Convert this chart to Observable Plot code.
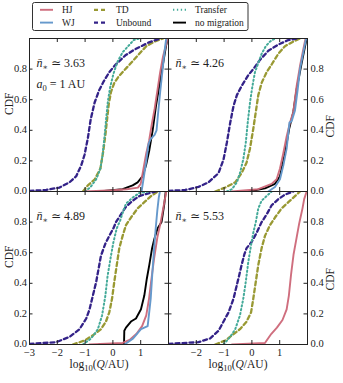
<!DOCTYPE html>
<html><head><meta charset="utf-8">
<script src="https://cdn.jsdelivr.net/npm/d3@7"></script>
<script src="https://cdn.jsdelivr.net/npm/@observablehq/plot@0.6"></script>
<style>
body{margin:0;background:#fff}
#wrap{position:relative;width:343px;height:383px;font-family:'Liberation Serif','DejaVu Serif',serif}
#wrap svg{display:block}
</style>
</head><body><div id="wrap"></div>
<script>
// ---- data ----
const seriesNames = ["HJ","WJ","TD","Unbound","Transfer","no migration"];
const seriesColors = ["#CC6677","#6699CC","#999933","#332288","#44AA99","#000000"];
const nStar = ["3.63","4.26","4.89","5.53"];
const xTicks = [-2,-1,0,1];
const yTicks = [0.2,0.4,0.6,0.8];
const yTickLabels = [0,0.2,0.4,0.6,0.8];
const xTickLabelsLeft = [-3,-2,-1,0,1];
const xTickLabelsRight = [-2,-1,0,1];

// panel n=3.63
const unb363 = [[-3,0.004],[-2.4,0.01],[-1.92,0.026],[-1.56,0.06],[-1.32,0.10],[-1.14,0.17],[-1.02,0.24],[-0.9,0.35],[-0.8,0.47],[-0.66,0.58],[-0.5,0.66],[-0.33,0.72],[-0.13,0.78],[0.1,0.83],[0.45,0.89],[0.8,0.93],[1.3,0.975],[1.7,1.0]];
const td363 = [[-1.08,0],[-0.9,0.04],[-0.65,0.08],[-0.45,0.15],[-0.35,0.26],[-0.27,0.37],[-0.21,0.47],[-0.15,0.57],[-0.07,0.65],[0.05,0.71],[0.2,0.75],[0.4,0.79],[0.6,0.83],[0.9,0.89],[1.2,0.95],[1.5,0.98],[1.8,1.0]];
const tr363 = [[-1.0,0],[-0.8,0.03],[-0.6,0.08],[-0.45,0.15],[-0.37,0.24],[-0.3,0.36],[-0.24,0.48],[-0.18,0.59],[-0.1,0.68],[0.02,0.77],[0.17,0.85],[0.35,0.91],[0.55,0.95],[0.75,0.99],[0.95,1.0]];
const nm363 = [[-0.5,0],[0.35,0.015],[0.71,0.04],[0.89,0.06],[1.07,0.1],[1.19,0.17],[1.31,0.27],[1.43,0.4],[1.55,0.56],[1.67,0.69],[1.79,0.82],[1.91,0.95],[1.97,1.0]];
const hj363 = [[-1.0,0],[0,0.008],[0.5,0.015],[0.9,0.025],[1.0,0.05],[1.1,0.15],[1.2,0.25],[1.3,0.33],[1.4,0.44],[1.5,0.54],[1.6,0.66],[1.7,0.78],[1.8,0.88],[1.9,0.95],[1.97,1.0]];
const wj363 = [[1.03,0],[1.1,0.08],[1.2,0.2],[1.28,0.31],[1.35,0.34],[1.5,0.37],[1.57,0.40],[1.62,0.5],[1.7,0.65],[1.8,0.82],[1.88,0.95],[1.92,1.0]];

// panel n=4.26
const unb426 = [[-3,0.004],[-2.4,0.01],[-1.92,0.03],[-1.56,0.06],[-1.2,0.12],[-1.02,0.21],[-0.9,0.32],[-0.78,0.45],[-0.66,0.56],[-0.54,0.63],[-0.37,0.69],[-0.13,0.76],[0.05,0.80],[0.29,0.86],[0.59,0.92],[0.95,0.96],[1.31,0.99],[1.61,1.0]];
const tr426 = [[-0.9,0],[-0.72,0.015],[-0.54,0.06],[-0.43,0.12],[-0.31,0.21],[-0.22,0.32],[-0.15,0.45],[-0.07,0.58],[0.02,0.69],[0.11,0.78],[0.23,0.84],[0.35,0.90],[0.5,0.95],[0.65,0.98],[0.83,1.0]];
const td426 = [[-1.32,0],[-0.96,0.026],[-0.6,0.06],[-0.37,0.12],[-0.19,0.19],[-0.07,0.28],[0.05,0.41],[0.14,0.52],[0.23,0.63],[0.35,0.71],[0.53,0.78],[0.71,0.83],[0.95,0.90],[1.19,0.95],[1.49,0.98],[1.73,1.0]];
const hj426 = [[-0.72,0],[0.23,0.015],[0.71,0.05],[0.89,0.08],[1.01,0.15],[1.13,0.25],[1.25,0.36],[1.37,0.45],[1.49,0.52],[1.61,0.69],[1.73,0.82],[1.85,0.93],[1.93,1.0]];
const wj426 = [[0.59,0],[0.83,0.03],[1.01,0.08],[1.13,0.17],[1.25,0.28],[1.35,0.45],[1.43,0.46],[1.55,0.53],[1.65,0.67],[1.73,0.80],[1.85,0.91],[1.95,1.0]];
const nm426 = [[-0.13,0],[0.47,0.02],[0.83,0.05],[1.01,0.1],[1.19,0.25],[1.34,0.41],[1.49,0.52],[1.61,0.67],[1.79,0.84],[1.97,1.0]];

// panel n=4.89
const unb489 = [[-3,0.004],[-2.04,0.015],[-1.56,0.05],[-1.2,0.10],[-0.96,0.17],[-0.84,0.23],[-0.72,0.32],[-0.6,0.41],[-0.52,0.49],[-0.43,0.58],[-0.27,0.66],[-0.13,0.71],[0.02,0.76],[0.11,0.80],[0.29,0.85],[0.47,0.90],[0.71,0.94],[0.95,0.97],[1.31,0.99],[1.55,1.0]];
const tr489 = [[-1.08,0],[-0.78,0.04],[-0.54,0.10],[-0.39,0.19],[-0.27,0.32],[-0.19,0.45],[-0.07,0.58],[0.02,0.67],[0.14,0.76],[0.26,0.81],[0.35,0.86],[0.47,0.92],[0.71,0.96],[0.95,0.99],[1.31,1.0]];
const td489 = [[-1.44,0],[-1.02,0.026],[-0.72,0.06],[-0.43,0.10],[-0.25,0.15],[-0.13,0.21],[-0.03,0.30],[0.05,0.41],[0.14,0.52],[0.23,0.63],[0.35,0.71],[0.47,0.78],[0.65,0.83],[0.89,0.89],[1.13,0.93],[1.37,0.97],[1.61,1.0]];
const nm489 = [[-0.5,0],[0.4,0.002],[0.41,0.09],[0.47,0.11],[0.65,0.15],[0.83,0.17],[1.01,0.23],[1.13,0.32],[1.22,0.43],[1.31,0.52],[1.41,0.63],[1.49,0.69],[1.61,0.76],[1.75,0.80],[1.85,0.92],[1.9,1.0]];
const hj489 = [[-0.85,0],[0.35,0.01],[0.6,0.03],[0.85,0.07],[1.05,0.12],[1.2,0.19],[1.3,0.3],[1.38,0.42],[1.48,0.56],[1.6,0.7],[1.72,0.8],[1.82,0.9],[1.92,1.0]];
const wj489 = [[0.42,0],[0.73,0.04],[1.01,0.10],[1.25,0.12],[1.3,0.2],[1.36,0.3],[1.42,0.47],[1.48,0.62],[1.54,0.76],[1.6,0.88],[1.65,0.96],[1.69,1.0]];

// panel n=5.53
const unb553 = [[-3,0.004],[-1.92,0.015],[-1.5,0.04],[-1.2,0.09],[-1.02,0.15],[-0.84,0.21],[-0.66,0.30],[-0.54,0.39],[-0.46,0.45],[-0.37,0.52],[-0.27,0.59],[-0.19,0.63],[-0.01,0.67],[0.17,0.73],[0.35,0.80],[0.53,0.85],[0.71,0.91],[0.95,0.95],[1.19,0.98],[1.49,1.0]];
const tr553 = [[-1.02,0],[-0.78,0.05],[-0.6,0.10],[-0.43,0.19],[-0.31,0.30],[-0.22,0.41],[-0.13,0.54],[-0.03,0.65],[0.05,0.73],[0.14,0.80],[0.23,0.89],[0.35,0.94],[0.53,0.97],[0.71,1.0]];
const td553 = [[-1.32,0],[-0.96,0.026],[-0.72,0.06],[-0.43,0.10],[-0.19,0.15],[-0.03,0.21],[0.05,0.30],[0.14,0.41],[0.23,0.52],[0.35,0.63],[0.47,0.71],[0.65,0.78],[0.83,0.83],[1.07,0.89],[1.31,0.93],[1.55,0.97],[1.73,1.0]];
const hj553 = [[-0.72,0],[0.47,0.01],[0.53,0.026],[0.7,0.07],[0.9,0.11],[1.1,0.16],[1.25,0.23],[1.33,0.32],[1.41,0.46],[1.5,0.59],[1.62,0.71],[1.7,0.79],[1.76,0.84],[1.82,0.89],[1.88,0.95],[1.97,1.0]];

// ---- build table ----
const panelCol = ["L","R","L","R"];
const panelRow = ["T","T","B","B"];
const rows = [];
function add(p, s, pts){ pts.forEach(([x,y]) => rows.push({panel:p, series:s, x, y, col:panelCol[p], row:panelRow[p]})); }
add(0,"HJ",hj363); add(0,"WJ",wj363); add(0,"TD",td363); add(0,"Unbound",unb363); add(0,"Transfer",tr363); add(0,"no migration",nm363);
add(1,"HJ",hj426); add(1,"WJ",wj426); add(1,"TD",td426); add(1,"Unbound",unb426); add(1,"Transfer",tr426); add(1,"no migration",nm426);
add(2,"HJ",hj489); add(2,"WJ",wj489); add(2,"TD",td489); add(2,"Unbound",unb489); add(2,"Transfer",tr489); add(2,"no migration",nm489);
add(3,"HJ",hj553); add(3,"TD",td553); add(3,"Unbound",unb553); add(3,"Transfer",tr553);

// ---- styles ----
const style = {
  "HJ": {stroke: seriesColors[0], strokeWidth: 1.9, strokeOpacity: 0.95},
  "WJ": {stroke: seriesColors[1], strokeWidth: 1.9},
  "TD": {stroke: seriesColors[2], strokeWidth: 2.3, strokeDasharray: "4,3"},
  "Unbound": {stroke: seriesColors[3], strokeWidth: 2.3, strokeDasharray: "4,3"},
  "Transfer": {stroke: seriesColors[4], strokeWidth: 2, strokeDasharray: "1.3,2.6"},
  "no migration": {stroke: seriesColors[5], strokeWidth: 1.9}
};
const drawOrder = ["TD","Unbound","Transfer","no migration","HJ","WJ"];

const W = 343, H = 349, mL = 28, mR = 36, mT = 4, mB = 39;
const pw = (W - mL - mR) / 2, ph = (H - mT - mB) / 2;
const tk = 4;

const yLabRows = [];
["T","B"].forEach(r => ["L","R"].forEach(c => yTickLabels.forEach(v => yLabRows.push({row:r, col:c, v}))));
const xLabRows = [];
xTickLabelsLeft.forEach(v => xLabRows.push({row:"B", col:"L", v}));
xTickLabelsRight.forEach(v => xLabRows.push({row:"B", col:"R", v}));
const cdfRows = [];
["T","B"].forEach(r => ["L","R"].forEach(c => cdfRows.push({row:r, col:c})));
const annRows = nStar.map((n,i) => ({row:panelRow[i], col:panelCol[i], n}));
const xTitleRows = [{row:"B", col:"L"},{row:"B", col:"R"}];

const fmtY = d3.format(".1f"), fmtX = d3.format("d");
const font = 10.5;

const chart = Plot.plot({
  width: W, height: H, marginLeft: mL, marginRight: mR, marginTop: mT, marginBottom: mB,
  x: {domain: [-3, 2], axis: null},
  y: {domain: [0, 1], axis: null},
  fx: {domain: ["L","R"], padding: 0, axis: null},
  fy: {domain: ["T","B"], padding: 0, axis: null},
  style: {fontFamily: "'Liberation Serif','DejaVu Serif',serif", fontSize: font + "px", background: "white", color: "#222"},
  marks: [
    ...drawOrder.map(s => Plot.line(rows.filter(d => d.series === s), {x: "x", y: "y", fx: "col", fy: "row", clip: true, strokeLinejoin: "round", ...style[s]})),
    Plot.frame({stroke: "#222", strokeWidth: 1}),
    Plot.tickY(yTicks, {y: d => d, insetRight: pw - tk, stroke: "#222"}),
    Plot.tickY(yTicks, {y: d => d, insetLeft: pw - tk, stroke: "#222"}),
    Plot.tickX(xTicks, {x: d => d, insetTop: ph - tk, stroke: "#222"}),
    Plot.tickX(xTicks, {x: d => d, insetBottom: ph - tk, stroke: "#222"}),
    Plot.text(yLabRows.filter(d => d.col === "L"), {y: "v", fx: "col", fy: "row", frameAnchor: "left", text: d => fmtY(d.v), textAnchor: "end", dx: -2.5, dy: -0.5, fill: "#222"}),
    Plot.text(yLabRows.filter(d => d.col === "R"), {y: "v", fx: "col", fy: "row", frameAnchor: "right", text: d => fmtY(d.v), textAnchor: "start", dx: 3, dy: -0.5, fill: "#222"}),
    Plot.text(xLabRows, {x: "v", fx: "col", fy: "row", frameAnchor: "bottom", text: d => fmtX(d.v), dy: 11.5, fill: "#222"}),
    Plot.text(cdfRows.filter(d => d.col === "L"), {fx: "col", fy: "row", frameAnchor: "left", text: () => "CDF", rotate: -90, dx: -20, fontSize: 11.5, fill: "#222"}),
    Plot.text(cdfRows.filter(d => d.col === "R"), {fx: "col", fy: "row", frameAnchor: "right", text: () => "CDF", rotate: -90, dx: 23, fontSize: 11.5, fill: "#222"}),
    Plot.text(xTitleRows, {fx: "col", fy: "row", frameAnchor: "bottom", text: () => "log10(Q/AU)", dy: 23, fontSize: 11.5, fill: "#222"}),
    Plot.text(annRows, {fx: "col", fy: "row", frameAnchor: "top-left", text: d => "n̄∗ ≃ " + d.n, textAnchor: "start", dx: 7, dy: 20, fontSize: 12, fill: "#222"}),
    Plot.text(annRows.filter((d,i) => i === 0), {fx: "col", fy: "row", frameAnchor: "top-left", text: () => "a0 = 1 AU", textAnchor: "start", dx: 7, dy: 41, fontSize: 12, fill: "#222"})
  ]
});

// ---- rich text (math-like) ----
const NS = "http://www.w3.org/2000/svg";
function rich(el, parts){
  el.textContent = "";
  parts.forEach(p => {
    const t = document.createElementNS(NS, "tspan");
    t.textContent = p.t;
    if (p.i) t.setAttribute("font-style", "italic");
    if (p.dy) t.setAttribute("dy", p.dy);
    if (p.fs) t.setAttribute("font-size", p.fs);
    el.appendChild(t);
  });
}
chart.querySelectorAll("text").forEach(el => {
  const s = el.textContent;
  if (s.startsWith("n̄∗")) {
    rich(el, [{t:"n̄", i:1},{t:"∗", fs:"8", dy:"3"},{t:" ≃ " + s.split("≃ ")[1], dy:"-3"}]);
  } else if (s === "a0 = 1 AU") {
    rich(el, [{t:"a", i:1},{t:"0", fs:"8.5", dy:"3"},{t:" = 1 AU", dy:"-3"}]);
  } else if (s === "log10(Q/AU)") {
    rich(el, [{t:"log"},{t:"10", fs:"8.5", dy:"3"},{t:"(", dy:"-3"},{t:"Q", i:1},{t:"/AU)"}]);
  }
});

// ---- legend ----
const legend = d3.create("svg").attr("width", W).attr("height", 34);
legend.append("rect").attr("x", 32.5).attr("y", 2.5).attr("width", 215.5).attr("height", 28).attr("rx", 2)
  .attr("fill", "white").attr("stroke", "#333").attr("stroke-width", 1);
const legX = [40, 94, 173];
const legY = [9.8, 22.6];
seriesNames.forEach((s, i) => {
  const c = Math.floor(i / 2), r = i % 2;
  const st = style[s];
  legend.append("line").attr("x1", legX[c]).attr("x2", legX[c] + 13).attr("y1", legY[r]).attr("y2", legY[r])
    .attr("stroke", st.stroke).attr("stroke-width", st.strokeWidth).attr("stroke-dasharray", st.strokeDasharray || null)
    .attr("stroke-opacity", st.strokeOpacity || 1);
  legend.append("text").attr("x", legX[c] + 22).attr("y", legY[r]).attr("dy", "0.33em")
    .attr("font-family", "'Liberation Serif','DejaVu Serif',serif").attr("font-size", 9.5).attr("fill", "#222").text(s);
});

const wrap = document.getElementById("wrap");
wrap.appendChild(legend.node());
wrap.appendChild(chart);
</script>
</body></html>
